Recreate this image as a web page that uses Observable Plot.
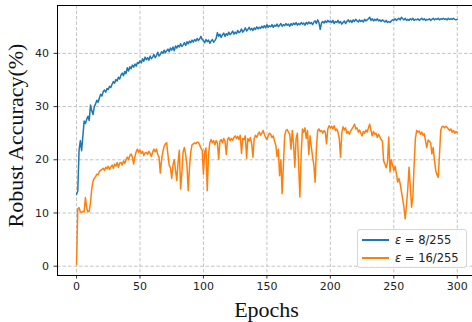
<!DOCTYPE html>
<html><head><meta charset="utf-8">
<script src="https://cdn.jsdelivr.net/npm/d3@7"></script>
<script src="https://cdn.jsdelivr.net/npm/@observablehq/plot@0.6"></script>
<style>
body{margin:0;background:#fff;}
#wrap{position:relative;width:472px;height:322px;overflow:hidden;background:#fff}
.legend{position:absolute;left:357px;top:229px;width:110px;height:39px;box-sizing:border-box;border:1px solid #d6d6d6;border-radius:3px;background:rgba(255,255,255,0.85);font-family:"DejaVu Sans";font-size:11.5px;color:#222}
.legend .row{position:absolute;left:0;height:14px;width:110px}
.legend .sw{position:absolute;left:4px;width:27px;height:0;border-top:2px solid}
.legend .lb{position:absolute;left:37px;white-space:nowrap;line-height:14px}
</style></head><body><div id="wrap"></div><script>
const seriesNames = ["ε = 8/255", "ε = 16/255"];
const seriesColors = ["#1f77b4", "#ff7f0e"];
const xTicks = [0, 50, 100, 150, 200, 250, 300];
const yTicks = [0, 10, 20, 30, 40];

// robust accuracy per epoch (index = epoch), eps = 8/255
const acc8 = [
13.5,14.2,21.8,23.6,21.7,24.5,27.3,26.8,27.6,28.2,
27.4,30.3,29.2,28.5,30,30.5,31.2,30.8,31.6,32.3,
32,32.8,33.1,32.7,33.4,33.2,33.8,33.6,34.2,34.7,
34.4,35.1,34.8,35.5,35.2,35.9,36.3,35.8,36.6,36.2,
37.3,36.7,37.5,37.1,37.8,37.4,38,37.6,38.3,38.1,
38.6,38.2,39,38.5,39.3,38.8,39.2,38.7,39.5,39,
39.3,39.8,39.2,39.6,40.2,39.5,39.8,40.3,40,40.6,
40.1,40.5,40.8,40.3,41,40.6,41.2,40.5,41.4,41,
41.5,41.2,41.8,41.3,41.6,42,41.5,42.2,41.8,42.3,
42,42.5,42.1,42.6,42.3,42.8,42.4,42.7,43.2,42.6,
42.4,42,42.6,42.2,42.5,41.9,42.3,42.6,42.1,42.4,
42.8,43.9,43.2,43.6,43,43.5,43.8,43.2,43.7,43.4,
44,43.5,43.8,44.2,43.6,44,43.7,44.3,43.9,44.1,
44.6,44,44.3,44.8,44.2,44.5,44.9,44.4,44.7,44.3,
44.8,44.5,45,44.6,44.9,44.7,45.1,44.8,45.2,44.8,
45.4,44.9,45.2,45,45.4,44.9,45.3,45.1,45.5,45,
45.3,45.6,45.1,45.4,45.2,45.6,45.3,45.5,45.1,45.6,
45.3,45.7,45.4,45.8,45.3,45.6,45.4,45.8,45.5,45.7,
45.3,45.8,45.5,45.9,45.6,45.8,45.4,45.9,46.1,45.6,
46.3,45.8,44.5,45.7,46,45.7,46.1,45.8,46.2,45.9,
46.1,45.8,46.2,45.6,46,45.8,46.2,45.7,46,45.5,
45.8,46.1,45.6,46,46.3,45.9,46.2,45.8,46.3,46,
46.4,46.1,45.9,46.3,46,46.2,45.9,46.4,46.1,46.3,
46.5,46.8,46.2,46.5,46.1,46.4,46.2,46.5,46.1,46.3,
46,46.3,46.1,45.9,46.2,45.8,46,45.8,46.1,46.3,
46.2,46.5,46.2,46.4,46.6,46.3,46.8,46.5,46.3,46.6,
46.2,46.4,46.2,46.5,46.3,46.6,46.2,46.4,46.3,46.5,
46.2,46.4,46.6,46.3,46.5,46.2,46.4,46.3,46.5,46.2,
46.4,46.6,46.3,46.5,46.4,46.6,46.3,46.5,46.4,46.6,
46.4,46.5,46.3,46.6,46.4,46.5,46.4,46.6,46.4,46.3,
46.4
];

// robust accuracy per epoch (index = epoch), eps = 16/255
const acc16 = [
0.3,10.8,11,10.2,10.1,10.3,10.2,12.9,11,10.2,
10.3,12,14.5,16,16.5,16.8,17.3,17.2,17.8,18,
18.2,18.4,18,18.6,18.3,18.8,18.2,18.6,19,18.4,
19.2,18.8,19.5,18.6,19.4,19.5,19,19.8,19.3,20,
20.5,20,20.8,21.1,20.5,19.2,20.6,21.5,22,21.4,
21.8,21.2,21.6,20.8,21.3,21.4,21,21.6,21.2,20.6,
21.5,22,21.5,22,21,20.5,17.5,20,21.5,22.5,
23,23.2,21,19,18.5,16.5,19,20,18,16.1,
19.5,21.8,14.5,17.5,21.5,22.3,21,19,14.2,18.5,
21.5,22.8,23,23.2,23,23.3,23.3,22.8,22.2,21.8,
17.3,21.5,22.2,14.2,21,23.2,23.8,23.2,23.6,22.8,
23.6,23.2,20.1,23.5,23.8,23.2,24,23.5,21,23.8,
24.2,23.6,24,23.7,24.2,24.5,24,24.4,23.8,24.6,
21.2,24,23.8,24.5,20.3,24,23.5,24.2,23,20.5,
24,24.6,24.2,24.8,25.2,24.6,25,25.5,24.8,24.2,
23.8,24.5,25,24.8,24.2,24.5,23.5,22.8,20.6,22,
17,20,13.6,19,24.5,25.5,25.7,25.2,24.8,22,
25.5,23,18.6,24,25,19,13,21,25.8,25.2,
26,24,25.5,21,24.5,22.5,20.5,19,15.8,22,
25.5,25.8,25.3,25.5,25,25.5,25.2,23,25.8,26.4,
26,26.3,25.8,26.4,25.5,25.8,25.2,24,20.5,25,
26.2,25.6,26,25,25.3,24.8,25.4,25.8,26.2,26.7,
25.8,26,25.2,25.6,25,24.5,25.3,25,25.6,25.2,
26,26.7,25.5,24.5,25.3,24.8,25,24.2,24.8,24.3,
23.8,23.5,19.8,19.2,18.5,19.5,24.3,17.7,20,19,
18,18.8,17.5,15.8,16.5,15.5,14,12.6,11,8.9,
11.5,14.5,18.6,15,11.1,13,19,24,25.5,25.2,
25.4,24.8,25.2,24.6,24.9,23.5,22.3,23.7,23.5,23.2,
21.1,22.3,20,18,17.2,16.7,21,25.6,26.2,26.3,
26,26.3,26.1,25.8,25.5,25.8,25.2,25.5,25,25.3,
25.1
];

const seriesValues = [acc8, acc16];
const rows = seriesValues.flatMap((vals, s) =>
  vals.map((v, i) => ({epoch: i, acc: v, series: seriesNames[s]})));

const xDomain = [-15, 312];
const yDomain = [-1.75, 49];
const gridStyle = {stroke: "#c4c4c4", strokeOpacity: 1, strokeWidth: 1, strokeDasharray: "3.5,2"};

const chart = Plot.plot({
  width: 472, height: 322,
  marginLeft: 57, marginRight: 0, marginTop: 5, marginBottom: 47,
  x: {domain: xDomain},
  y: {domain: yDomain},
  color: {domain: seriesNames, range: seriesColors},
  style: {fontFamily: "DejaVu Sans", fontSize: "11px", color: "#222", background: "white", overflow: "visible"},
  marks: [
    Plot.gridX(xTicks, gridStyle),
    Plot.gridY(yTicks, gridStyle),
    Plot.axisX(xTicks, {tickSize: 3.5, tickPadding: 3, label: null, stroke: "#333", fontSize: 11}),
    Plot.axisY(yTicks, {tickSize: 3.5, tickPadding: 5, label: null, stroke: "#333", fontSize: 11}),
    Plot.line(rows.filter(d => d.series === seriesNames[0]), {x: "epoch", y: "acc", stroke: "series", strokeWidth: 1.5}),
    Plot.line(rows.filter(d => d.series === seriesNames[1]), {x: "epoch", y: "acc", stroke: "series", strokeWidth: 1.5}),
    Plot.ruleX([xDomain[0]], {stroke: "#000", strokeWidth: 1}),
    Plot.ruleY(yDomain, {stroke: "#000", strokeWidth: 1}),
    Plot.text(["Epochs"], {frameAnchor: "bottom", textAnchor: "middle", dx: 1.5, dy: 34.5, lineAnchor: "middle", fontFamily: "Liberation Serif", fontSize: 22, fill: "#111"}),
    Plot.text(["Robust Accuracy(%)"], {frameAnchor: "left", textAnchor: "middle", rotate: -90, dx: -42, dy: -5, lineAnchor: "middle", fontFamily: "Liberation Serif", fontSize: 22, fill: "#111"})
  ]
});

const wrap = document.getElementById("wrap");
wrap.appendChild(chart);

const legend = document.createElement("div");
legend.className = "legend";
seriesNames.forEach((name, i) => {
  const row = document.createElement("div");
  row.className = "row";
  row.style.top = (3 + i * 17.7) + "px";
  const sw = document.createElement("div");
  sw.className = "sw";
  sw.style.top = "6px";
  sw.style.borderTopColor = seriesColors[i];
  const lb = document.createElement("div");
  lb.className = "lb";
  const parts = name.split(" = ");
  lb.innerHTML = "<i>" + parts[0] + "</i> = " + parts[1];
  row.appendChild(sw); row.appendChild(lb);
  legend.appendChild(row);
});
wrap.appendChild(legend);
</script></body></html>
